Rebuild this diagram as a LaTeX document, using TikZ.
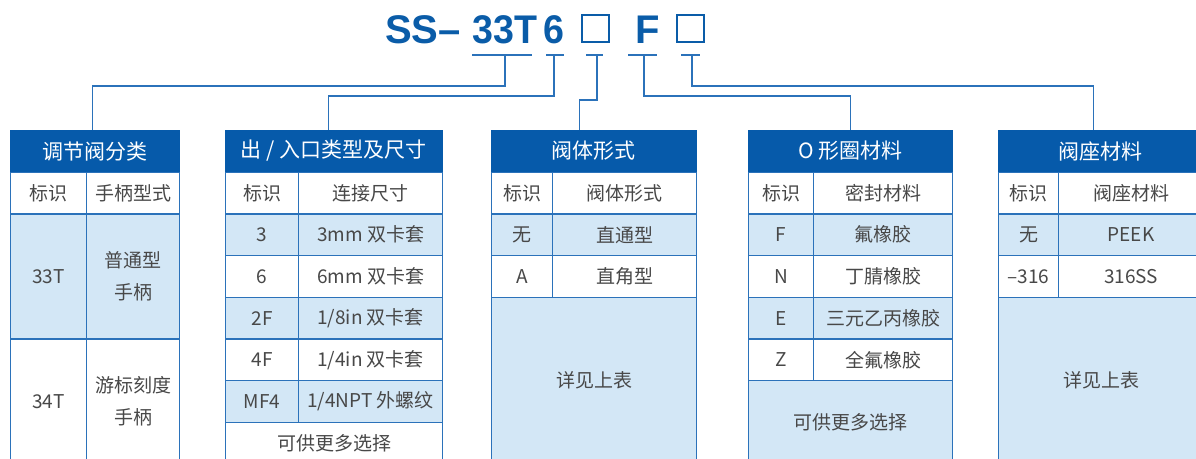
\documentclass[tikz,border=0pt]{standalone}
\usepackage{fontspec}
\setmainfont{Noto Sans CJK SC}
\newfontfamily\titlefont{Liberation Sans}
\usepackage{xcolor}
\usepackage{tikz}
\usetikzlibrary{positioning, calc}

\definecolor{titleblue}{RGB}{10,92,168}
\definecolor{headblue}{RGB}{6,90,170}
\definecolor{lineblue}{RGB}{43,114,186}
\definecolor{lightblue}{RGB}{211,231,246}
\definecolor{textgray}{RGB}{72,72,72}

\tikzset{
    ttl/.style={text=titleblue, font=\titlefont\bfseries\fontsize{40}{40}\selectfont, inner sep=0pt, anchor=base west},
    sq/.style={draw=titleblue, line width=2pt, minimum size=27pt, inner sep=0pt},
    link/.style={draw=lineblue, line width=1.3pt},
    hd/.style={draw=headblue, fill=headblue, text=white, font=\fontsize{21}{24}\selectfont, anchor=north west, minimum height=41.7pt, inner sep=0pt},
    cw/.style={draw=lineblue, line width=1.2pt, fill=white, text=textgray, font=\fontsize{19}{32}\selectfont, anchor=north west, minimum height=41.7pt, inner sep=0pt, align=center},
    cb/.style={cw, fill=lightblue}
}

\begin{document}
\begin{tikzpicture}[x=1pt, y=-1pt]
    \useasboundingbox (0,0) rectangle (1196,458);
    \clip (0,0) rectangle (1196,458);

    \node[ttl] (ss) at (385,43) {SS–};
    \node[ttl] (k33) at (472,43) {\scalebox{0.94}[1]{33T}};
    \node[ttl] (k6) at (543,43) {\scalebox{0.94}[1]{6}};
    \node[sq] (q1) at (595,28.5) {};
    \node[ttl] (kf) at (635,43) {F};
    \node[sq] (q2) at (690.5,28.5) {};

    \draw[link] (472,55) -- (532,55);
    \draw[link] (546,55) -- (564,55);
    \draw[link] (586,55) -- (603,55);
    \draw[link] (628,55) -- (657,55);
    \draw[link] (681,55) -- (700,55);

    \node[hd, minimum width=169pt] (hd1) at (10,130) {调节阀分类};
    \node[cw, minimum width=76pt] (t1k) at (10,171.7) {标识};
    \node[cw, minimum width=93pt] (t1n) at (86,171.7) {手柄型式};
    \node[cb, minimum width=76pt, minimum height=125pt] (t1a) at (10,213.3) {33T};
    \node[cb, minimum width=93pt, minimum height=125pt] (t1b) at (86,213.3) {普通型\\手柄};
    \node[cw, minimum width=76pt, minimum height=125pt] (t1c) at (10,338.3) {34T};
    \node[cw, minimum width=93pt, minimum height=125pt] (t1d) at (86,338.3) {游标刻度\\手柄};

    \node[hd, minimum width=217pt] (hd2) at (225,130) {出 / 入口类型及尺寸};
    \node[cw, minimum width=73pt] (t2k) at (225,171.7) {标识};
    \node[cw, minimum width=144pt] (t2n) at (298,171.7) {连接尺寸};
    \node[cb, minimum width=73pt] (t2a) at (225,213.3) {3};
    \node[cb, minimum width=144pt] (t2b) at (298,213.3) {3mm 双卡套};
    \node[cw, minimum width=73pt] (t2c) at (225,255) {6};
    \node[cw, minimum width=144pt] (t2d) at (298,255) {6mm 双卡套};
    \node[cb, minimum width=73pt] (t2e) at (225,296.7) {2F};
    \node[cb, minimum width=144pt] (t2f) at (298,296.7) {1/8in 双卡套};
    \node[cw, minimum width=73pt] (t2g) at (225,338.3) {4F};
    \node[cw, minimum width=144pt] (t2h) at (298,338.3) {1/4in 双卡套};
    \node[cb, minimum width=73pt] (t2i) at (225,380) {MF4};
    \node[cb, minimum width=144pt] (t2j) at (298,380) {1/4NPT 外螺纹};
    \node[cw, minimum width=217pt] (t2m) at (225,421.7) {可供更多选择};

    \node[hd, minimum width=205pt] (hd3) at (491,130) {阀体形式};
    \node[cw, minimum width=61pt] (t3k) at (491,171.7) {标识};
    \node[cw, minimum width=144pt] (t3n) at (552,171.7) {阀体形式};
    \node[cb, minimum width=61pt] (t3a) at (491,213.3) {无};
    \node[cb, minimum width=144pt] (t3b) at (552,213.3) {直通型};
    \node[cw, minimum width=61pt] (t3c) at (491,255) {A};
    \node[cw, minimum width=144pt] (t3d) at (552,255) {直角型};
    \node[cb, minimum width=205pt, minimum height=166.7pt] (t3m) at (491,296.7) {详见上表};

    \node[hd, minimum width=204pt] (hd4) at (748,130) {O 形圈材料};
    \node[cw, minimum width=65pt] (t4k) at (748,171.7) {标识};
    \node[cw, minimum width=139pt] (t4n) at (813,171.7) {密封材料};
    \node[cb, minimum width=65pt] (t4a) at (748,213.3) {F};
    \node[cb, minimum width=139pt] (t4b) at (813,213.3) {氟橡胶};
    \node[cw, minimum width=65pt] (t4c) at (748,255) {N};
    \node[cw, minimum width=139pt] (t4d) at (813,255) {丁腈橡胶};
    \node[cb, minimum width=65pt] (t4e) at (748,296.7) {E};
    \node[cb, minimum width=139pt] (t4f) at (813,296.7) {三元乙丙橡胶};
    \node[cw, minimum width=65pt] (t4g) at (748,338.3) {Z};
    \node[cw, minimum width=139pt] (t4h) at (813,338.3) {全氟橡胶};
    \node[cb, minimum width=204pt, minimum height=83.3pt] (t4m) at (748,380) {可供更多选择};

    \node[hd, minimum width=205pt] (hd5) at (998,130) {阀座材料};
    \node[cw, minimum width=60pt] (t5k) at (998,171.7) {标识};
    \node[cw, minimum width=145pt] (t5n) at (1058,171.7) {阀座材料};
    \node[cb, minimum width=60pt] (t5a) at (998,213.3) {无};
    \node[cb, minimum width=145pt] (t5b) at (1058,213.3) {PEEK};
    \node[cw, minimum width=60pt] (t5c) at (998,255) {–316};
    \node[cw, minimum width=145pt] (t5d) at (1058,255) {316SS};
    \node[cb, minimum width=205pt, minimum height=166.7pt] (t5m) at (998,296.7) {详见上表};

    \coordinate (b1) at (505,55);
    \coordinate (b2) at (554,55);
    \coordinate (b3) at (597,55);
    \coordinate (b4) at (644,55);
    \coordinate (b5) at (692,55);
    \draw[link] (b1) -- ++(0,31) -| ([xshift=-2.5pt]hd1.north);
    \draw[link] (b2) -- ++(0,41) -| ([xshift=-5.5pt]hd2.north);
    \draw[link] (b3) -- ++(0,45) -| ([xshift=-14.5pt]hd3.north);
    \draw[link] (b4) -- ++(0,41) -| (hd4.north);
    \draw[link] (b5) -- ++(0,31) -| ([xshift=-7.5pt]hd5.north);

  \end{tikzpicture}
\end{document}
